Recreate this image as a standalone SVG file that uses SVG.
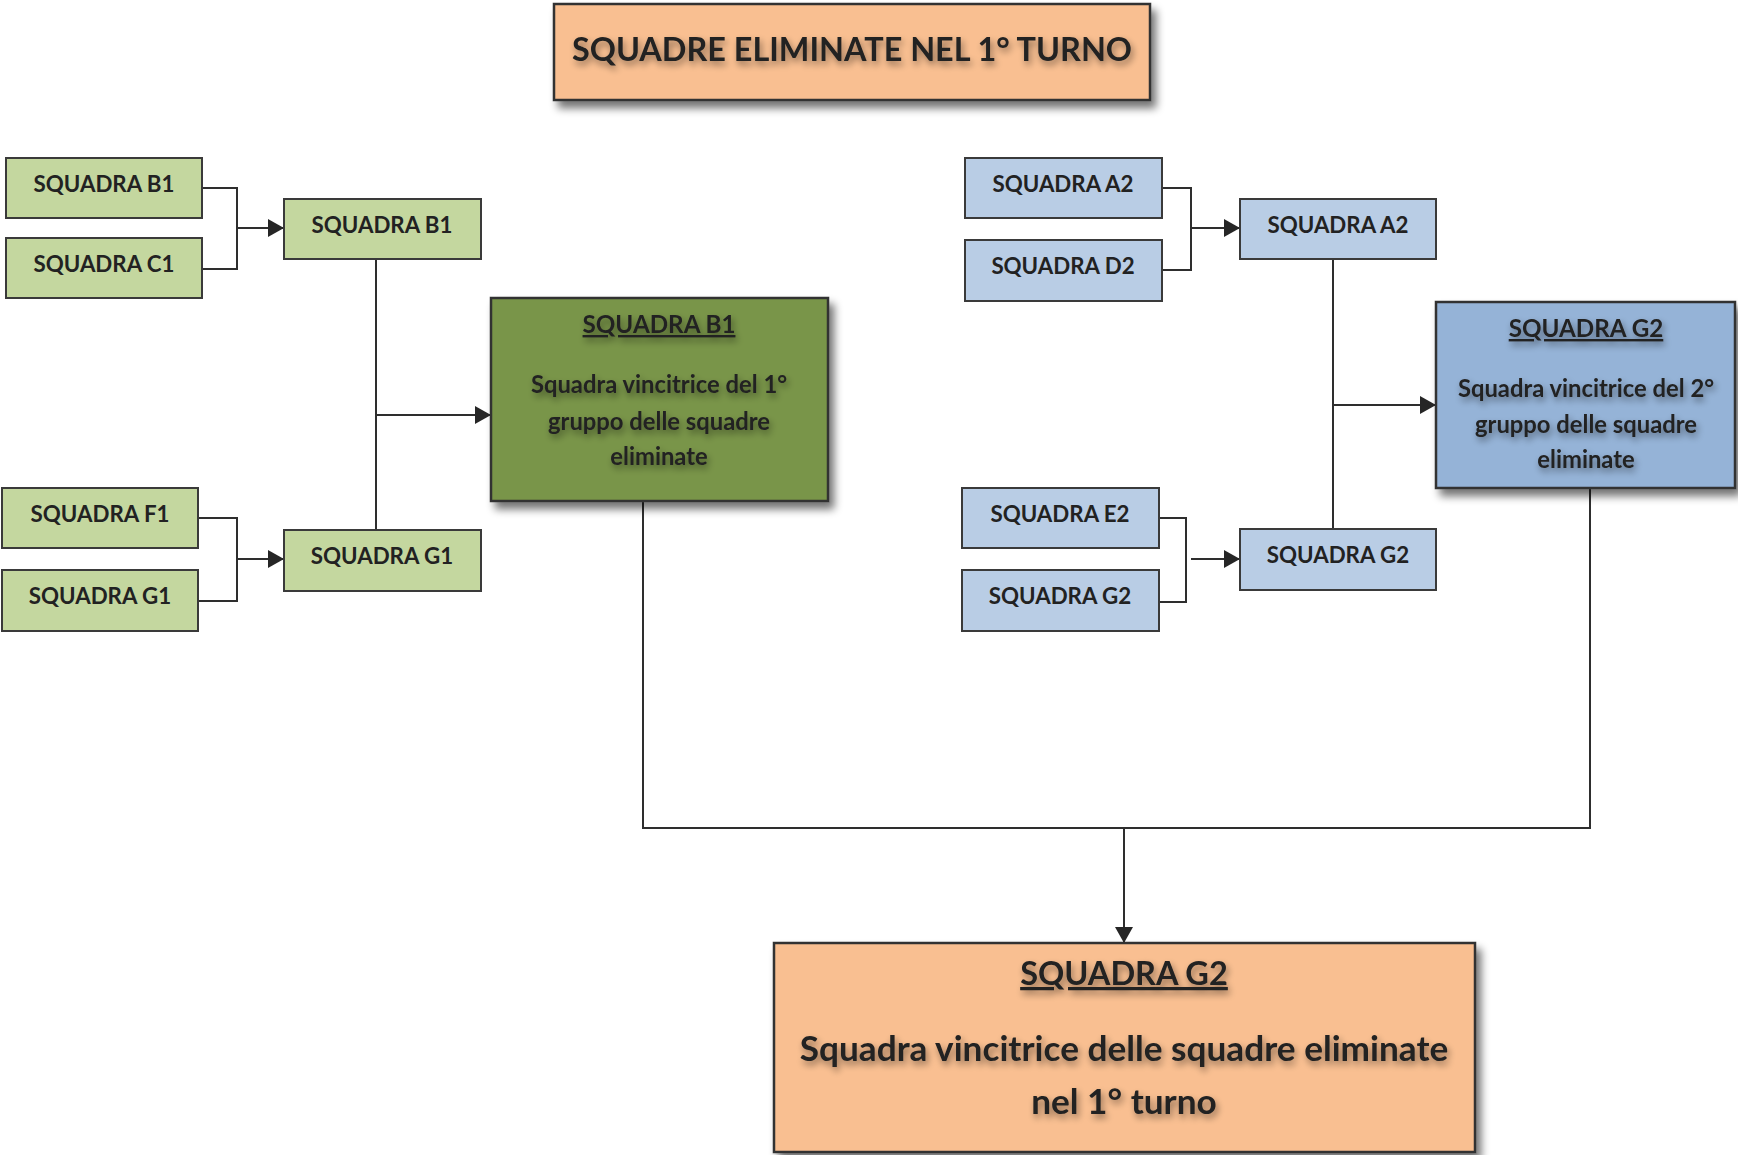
<svg xmlns="http://www.w3.org/2000/svg" width="1738" height="1155" viewBox="0 0 1738 1155">
<defs>
<style>
.lg{fill:#C4D79F;stroke:#3a3a3a;stroke-width:2}
.lb{fill:#B9CDE5;stroke:#3a3a3a;stroke-width:2}
.dg{fill:#79954A;stroke:#333;stroke-width:2.5}
.db{fill:#95B3D7;stroke:#333;stroke-width:2.5}
.or{fill:#F9BF91;stroke:#333;stroke-width:2.5}
.t{font-family:Lato,"Liberation Sans",sans-serif;font-weight:bold;fill:#222;text-anchor:middle}
.s{font-size:22.3px}
.c{fill:none;stroke:#2e2e2e;stroke-width:2}
.u{text-decoration:underline}
</style>
<filter id="sh" x="-10%" y="-10%" width="130%" height="140%">
<feGaussianBlur in="SourceAlpha" stdDeviation="4"/>
<feOffset dx="5" dy="7" result="b"/>
<feComponentTransfer><feFuncA type="linear" slope="0.55"/></feComponentTransfer>
<feMerge><feMergeNode/><feMergeNode in="SourceGraphic"/></feMerge>
</filter>
<filter id="ts" x="-10%" y="-30%" width="120%" height="170%">
<feGaussianBlur in="SourceAlpha" stdDeviation="3.5"/>
<feOffset dx="2" dy="4" result="b"/>
<feComponentTransfer><feFuncA type="linear" slope="0.45"/></feComponentTransfer>
<feMerge><feMergeNode/><feMergeNode in="SourceGraphic"/></feMerge>
</filter>
<marker id="ah" markerWidth="16" markerHeight="18" refX="16" refY="9" orient="auto" markerUnits="userSpaceOnUse">
<path d="M0,0 L16,9 L0,18 Z" fill="#262626"/>
</marker>
</defs>
<rect width="1738" height="1155" fill="#fff"/>

<g id="connectors">
<path class="c" d="M202 188 H237 V269 H202"/>
<path class="c" d="M237 228 H284" marker-end="url(#ah)"/>
<path class="c" d="M198 518 H237 V601 H198"/>
<path class="c" d="M237 559 H284" marker-end="url(#ah)"/>
<path class="c" d="M376 259 V529"/>
<path class="c" d="M376 415 H491" marker-end="url(#ah)"/>
<path class="c" d="M1162 188 H1191 V270 H1162"/>
<path class="c" d="M1191 228 H1240" marker-end="url(#ah)"/>
<path class="c" d="M1159 518 H1186 V602 H1159"/>
<path class="c" d="M1191 559 H1240" marker-end="url(#ah)"/>
<path class="c" d="M1333 259 V529"/>
<path class="c" d="M1333 405 H1436" marker-end="url(#ah)"/>
<path class="c" d="M643 501 V828 H1590 V488"/>
<path class="c" d="M1124 828 V943" marker-end="url(#ah)"/>
</g>

<g id="title">
<rect class="or" x="554" y="4" width="596" height="96" filter="url(#sh)"/>
<text class="t" x="852" y="61" font-size="32.4" filter="url(#ts)">SQUADRE ELIMINATE NEL 1° TURNO</text>
</g>

<g id="n-b1">
<rect class="lg" x="6" y="158" width="196" height="60"/>
<text class="t s" x="104" y="192">SQUADRA B1</text>
</g>
<g id="n-c1">
<rect class="lg" x="6" y="238" width="196" height="60"/>
<text class="t s" x="104" y="272">SQUADRA C1</text>
</g>
<g id="n-f1">
<rect class="lg" x="2" y="488" width="196" height="60"/>
<text class="t s" x="100" y="522">SQUADRA F1</text>
</g>
<g id="n-g1">
<rect class="lg" x="2" y="570" width="196" height="61"/>
<text class="t s" x="100" y="604">SQUADRA G1</text>
</g>
<g id="n-b1b">
<rect class="lg" x="284" y="199" width="197" height="60"/>
<text class="t s" x="382" y="233">SQUADRA B1</text>
</g>
<g id="n-g1b">
<rect class="lg" x="284" y="530" width="197" height="61"/>
<text class="t s" x="382" y="564">SQUADRA G1</text>
</g>
<g id="n-winner1">
<rect class="dg" x="491" y="298" width="337" height="203" filter="url(#sh)"/>
<g filter="url(#ts)">
<text class="t u" x="659" y="333" font-size="24.2">SQUADRA B1</text>
<text class="t" x="659" y="393" font-size="23.8">Squadra vincitrice del 1°</text>
<text class="t" x="659" y="430" font-size="23.8">gruppo delle squadre</text>
<text class="t" x="659" y="465" font-size="23.8">eliminate</text>
</g>
</g>

<g id="n-a2">
<rect class="lb" x="965" y="158" width="197" height="60"/>
<text class="t s" x="1063" y="192">SQUADRA A2</text>
</g>
<g id="n-d2">
<rect class="lb" x="965" y="240" width="197" height="61"/>
<text class="t s" x="1063" y="274">SQUADRA D2</text>
</g>
<g id="n-e2">
<rect class="lb" x="962" y="488" width="197" height="60"/>
<text class="t s" x="1060" y="522">SQUADRA E2</text>
</g>
<g id="n-g2">
<rect class="lb" x="962" y="570" width="197" height="61"/>
<text class="t s" x="1060" y="604">SQUADRA G2</text>
</g>
<g id="n-a2b">
<rect class="lb" x="1240" y="199" width="196" height="60"/>
<text class="t s" x="1338" y="233">SQUADRA A2</text>
</g>
<g id="n-g2b">
<rect class="lb" x="1240" y="529" width="196" height="61"/>
<text class="t s" x="1338" y="563">SQUADRA G2</text>
</g>
<g id="n-winner2">
<rect class="db" x="1436" y="302" width="299" height="186" filter="url(#sh)"/>
<g filter="url(#ts)">
<text class="t u" x="1586" y="337" font-size="24.2">SQUADRA G2</text>
<text class="t" x="1586" y="397" font-size="23.8">Squadra vincitrice del 2°</text>
<text class="t" x="1586" y="433" font-size="23.8">gruppo delle squadre</text>
<text class="t" x="1586" y="468" font-size="23.8">eliminate</text>
</g>
</g>

<g id="n-final">
<rect class="or" x="774" y="943" width="701" height="209" filter="url(#sh)"/>
<g filter="url(#ts)">
<text class="t u" x="1124" y="985" font-size="32.5">SQUADRA G2</text>
<text class="t" x="1124" y="1061" font-size="35.2">Squadra vincitrice delle squadre eliminate</text>
<text class="t" x="1124" y="1114" font-size="35.2">nel 1° turno</text>
</g>
</g>
</svg>
